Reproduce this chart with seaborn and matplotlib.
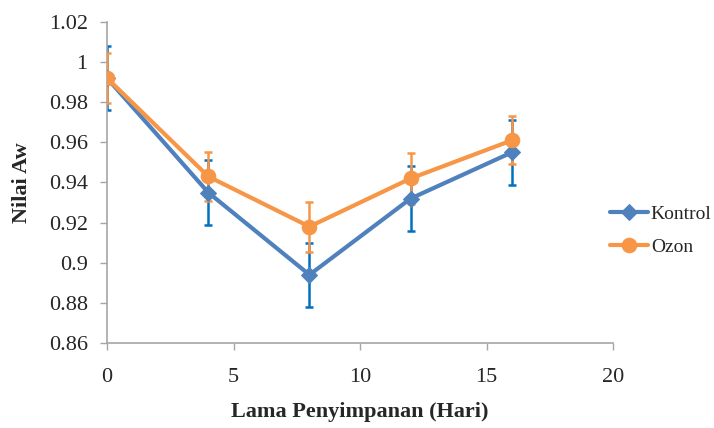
import seaborn as sns
import pandas as pd
import matplotlib.pyplot as plt
import numpy as np

sns.set_style('white')
plt.rcParams['font.family'] = ['Liberation Serif', 'DejaVu Serif']

days = [0, 4, 8, 12, 16]
kontrol = [0.992, 0.935, 0.894, 0.932, 0.955]
ozon = [0.992, 0.943, 0.918, 0.942, 0.961]
kontrol_err = [0.016, 0.016, 0.016, 0.016, 0.016]
ozon_err = [0.0125, 0.0122, 0.0125, 0.0125, 0.012]

line_colors = {'Kontrol': '#4F81BD', 'Ozon': '#F79646'}
err_colors = {'Kontrol': '#0070C0', 'Ozon': '#F79646'}
markers = {'Kontrol': 'D', 'Ozon': 'o'}
sizes = {'Kontrol': 8, 'Ozon': 10.5}

data = pd.DataFrame({
    'hari': days * 2,
    'aw': kontrol + ozon,
    'err': kontrol_err + ozon_err,
    'grup': ['Kontrol'] * len(days) + ['Ozon'] * len(days),
})

fig = plt.figure(figsize=(7.14, 4.28), dpi=100)
ax = fig.add_axes([0.15, 0.1986, 0.7085, 0.75])

for grup, sub in data.groupby('grup'):
    ax.errorbar(sub['hari'], sub['aw'], yerr=sub['err'], fmt='none',
                ecolor=err_colors[grup], elinewidth=1.8, capsize=3,
                capthick=1.8, zorder=2 if grup == 'Kontrol' else 3)

for grup in ['Kontrol', 'Ozon']:
    sub = data[data['grup'] == grup]
    sns.lineplot(data=sub, x='hari', y='aw', ax=ax, color=line_colors[grup],
                 marker=markers[grup], markersize=sizes[grup],
                 markeredgecolor=line_colors[grup], linewidth=3,
                 label=grup, zorder=4 if grup == 'Ozon' else 3)

ax.set_xlim(0, 20)
ax.set_ylim(0.86, 1.02)
ax.set_xticks(np.arange(0, 21, 5))
ax.set_yticks(np.arange(0.86, 1.021, 0.02))
ax.set_yticklabels(['0.86', '0.88', '0.9', '0.92', '0.94', '0.96', '0.98', '1', '1.02'])
ax.tick_params(axis='both', labelsize=16, direction='out', length=5,
               width=1, color='#A6A6A6', left=True, bottom=True)
ax.tick_params(axis='x', pad=13)
ax.tick_params(axis='y', pad=9)

for side in ['top', 'right']:
    ax.spines[side].set_visible(False)
for side in ['left', 'bottom']:
    ax.spines[side].set_color('#A6A6A6')
    ax.spines[side].set_linewidth(1.2)

ax.set_xlabel('Lama Penyimpanan (Hari)', fontsize=16, fontweight='bold', labelpad=11)
ax.set_ylabel('Nilai Aw', fontsize=16, fontweight='bold', labelpad=12)

ax.legend(loc='center left', bbox_to_anchor=(0.994, 0.35), frameon=False,
          fontsize=14, handlelength=1.95, handletextpad=0.15, labelspacing=0.8,
          borderaxespad=0, borderpad=0)

fig.savefig('out.png', dpi=100)
